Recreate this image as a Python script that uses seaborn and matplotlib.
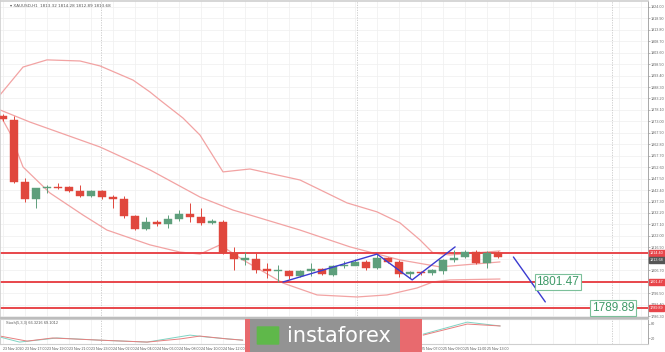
import numpy as np
import pandas as pd
import matplotlib
matplotlib.use("Agg")
import matplotlib.pyplot as plt
import seaborn as sns
from matplotlib.patches import Rectangle, FancyBboxPatch

# ---------------- data ----------------
opens  = [1875.4, 1873.6, 1846.0, 1838.4, 1843.3, 1843.8, 1843.6, 1842.0, 1839.8, 1842.0,
          1839.3, 1838.4, 1830.9, 1825.1, 1828.2, 1827.3, 1829.5, 1831.8, 1830.4, 1827.8,
          1828.2, 1814.4, 1811.3, 1811.7, 1807.3, 1806.4, 1806.4, 1804.1, 1806.4, 1807.3,
          1804.6, 1808.6, 1808.6, 1810.4, 1807.7, 1812.2, 1810.4, 1805.0, 1805.9, 1805.5,
          1806.4, 1811.3, 1812.6, 1814.8, 1809.9, 1814.4]
highs  = [1876.3, 1875.4, 1847.8, 1843.3, 1844.7, 1845.6, 1844.2, 1844.7, 1842.4, 1842.4,
          1840.2, 1839.8, 1831.3, 1830.4, 1829.1, 1831.3, 1833.5, 1836.7, 1834.4, 1829.5,
          1829.1, 1817.1, 1814.8, 1814.4, 1809.9, 1809.0, 1806.8, 1806.8, 1809.8, 1807.7,
          1809.0, 1810.8, 1811.7, 1811.3, 1813.9, 1812.6, 1811.3, 1806.4, 1806.4, 1807.3,
          1811.7, 1815.7, 1815.7, 1815.7, 1815.3, 1815.3]
lows   = [1873.2, 1845.6, 1837.1, 1834.4, 1841.1, 1842.9, 1841.6, 1839.3, 1839.3, 1838.4,
          1834.4, 1830.0, 1824.6, 1824.6, 1826.4, 1825.5, 1828.6, 1828.2, 1826.9, 1827.3,
          1814.0, 1806.8, 1809.0, 1805.5, 1803.3, 1801.5, 1802.8, 1803.7, 1804.1, 1804.6,
          1804.1, 1807.7, 1809.0, 1806.8, 1807.3, 1809.9, 1803.7, 1803.3, 1804.6, 1804.6,
          1805.0, 1810.4, 1812.2, 1809.5, 1807.7, 1812.2]
closes = [1874.1, 1846.0, 1838.4, 1843.3, 1843.8, 1843.3, 1842.0, 1839.8, 1842.0, 1839.3,
          1838.4, 1830.9, 1825.1, 1828.2, 1827.3, 1829.5, 1831.8, 1830.4, 1827.8, 1828.6,
          1814.4, 1811.7, 1812.2, 1806.8, 1806.4, 1806.8, 1804.1, 1806.4, 1807.3, 1805.0,
          1808.6, 1809.0, 1810.4, 1807.7, 1812.2, 1810.4, 1805.0, 1805.9, 1805.5, 1806.8,
          1811.3, 1812.2, 1814.8, 1809.9, 1814.4, 1812.6]

# Bollinger bands (candle index, price)
bb_up_x  = [-0.27, 1.82, 4.0, 7.0, 8.82, 11.82, 13.36, 14.27, 16.36, 17.91, 20.0, 22.45, 27.0, 31.27, 34.0, 36.09, 37.91, 39.09, 40.64, 45.18]
bb_up_y  = [1884.8, 1897.2, 1900.4, 1899.9, 1897.7, 1891.4, 1886.1, 1882.5, 1874.5, 1866.9, 1850.5, 1851.8, 1846.9, 1836.7, 1832.7, 1827.8, 1820.2, 1814.4, 1813.5, 1815.3]
bb_mid_x = [-0.27, 2.45, 8.82, 13.36, 17.91, 20.91, 22.45, 27.0, 31.55, 33.64, 36.09, 39.73, 45.18]
bb_mid_y = [1878.1, 1872.7, 1861.6, 1851.4, 1839.3, 1833.5, 1831.3, 1824.6, 1817.1, 1814.4, 1811.3, 1808.2, 1810.4]
bb_lo_x  = [-0.27, 0.64, 1.82, 4.27, 7.27, 9.45, 13.36, 16.09, 17.91, 19.73, 21.82, 25.45, 28.55, 32.18, 34.91, 37.64, 39.09, 40.64, 45.18]
bb_lo_y  = [1875.9, 1867.8, 1852.7, 1841.1, 1831.3, 1824.6, 1818.0, 1814.8, 1813.9, 1818.0, 1811.3, 1801.0, 1795.7, 1794.8, 1795.7, 1798.8, 1801.5, 1802.4, 1802.8]

# Stochastic (candle index, value)
stoch_k_x = [-0.27, 1.5, 4.9, 8.8, 13.1, 17.0, 18.5, 21.8, 38.2, 42.2, 45.2]
stoch_k_y = [25, 4, 21, 12, 4, 33, 25, 12, 37, 87, 71]
stoch_d_x = [-0.27, 2.2, 4.5, 8.8, 13.1, 16.1, 17.9, 20.4, 21.8, 38.2, 42.2, 45.2]
stoch_d_y = [29, 8, 21, 12, 4, 17, 29, 17, 12, 33, 79, 71]

# levels and drawn pattern
levels = [1814.4, 1801.47, 1789.89]
level_labels = ["1801.47", "1789.89"]
zig_x = [25.45, 34.0, 37.2, 41.1]
zig_y = [1801.47, 1813.9, 1802.4, 1817.1]
arrow_x = [46.4, 49.3]
arrow_y = [1812.6, 1792.6]

y_ticks = [1786.30, 1791.40, 1796.50, 1801.60, 1806.70, 1811.80, 1816.90, 1822.00, 1827.10,
           1832.20, 1837.30, 1842.40, 1847.50, 1852.60, 1857.70, 1862.80, 1867.90, 1873.00,
           1878.10, 1883.20, 1888.30, 1893.40, 1898.50, 1903.60, 1908.70, 1913.80, 1918.90, 1924.00]
x_tick_pos = [0, 2, 4, 6, 8, 10, 12, 14, 16, 18, 20, 22, 24, 26, 28, 30, 32, 34, 36, 38, 40, 42, 44]
x_tick_lab = ["23 Nov 2020", "23 Nov 17:00", "23 Nov 19:00", "23 Nov 21:00", "23 Nov 23:00",
              "24 Nov 02:00", "24 Nov 04:00", "24 Nov 06:00", "24 Nov 08:00", "24 Nov 10:00",
              "24 Nov 12:00", "24 Nov 14:00", "24 Nov 16:00", "24 Nov 18:00", "24 Nov 20:00",
              "24 Nov 22:00", "25 Nov 01:00", "25 Nov 03:00", "25 Nov 05:00", "25 Nov 07:00",
              "25 Nov 09:00", "25 Nov 11:00", "25 Nov 13:00"]
day_sep = [8.9, 32.2, 55.4]
header = "XAUUSD,H1  1813.32 1814.28 1812.89 1813.68"
last_price = "1813.68"
brand = "instaforex"

# ---------------- figure ----------------
sns.set_theme(style="white")
plt.rcParams['font.family'] = ['Liberation Sans', 'DejaVu Sans']
W, H = 665, 352
fig = plt.figure(figsize=(W / 100, H / 100), dpi=100)
fig.patch.set_facecolor("white")

def fy(py):
    return 1 - py / H

XMIN, XMAX = -0.273, 58.636
ax = fig.add_axes([0, fy(318), 648 / W, 317 / H])
ax.set_xlim(XMIN, XMAX)
ax.set_ylim(1785.43, 1926.62)

RED = "#e0473d"
GREEN = "#5e9f7c"
BAND = "#f2a3a3"
LEVEL = "#e8464b"
LABG = "#3f9a68"
GRID = "#efefef"

# grid
for t in y_ticks:
    ax.axhline(t, color=GRID, lw=0.5, zorder=0)
for t in x_tick_pos + [46, 48, 50, 52, 54, 56, 58]:
    ax.axvline(t, color=GRID, lw=0.5, zorder=0)
for d in day_sep:
    ax.axvline(d, color="#c8c8c8", lw=0.6, ls=(0, (1.5, 1.5)), zorder=0.5)

# bands
df_up = pd.DataFrame({"x": bb_up_x, "y": bb_up_y})
df_mid = pd.DataFrame({"x": bb_mid_x, "y": bb_mid_y})
df_lo = pd.DataFrame({"x": bb_lo_x, "y": bb_lo_y})
for d in (df_up, df_mid, df_lo):
    sns.lineplot(data=d, x="x", y="y", ax=ax, color=BAND, lw=0.9, sort=False, zorder=1)

# levels
for lv in levels:
    ax.axhline(lv, color=LEVEL, lw=1.4, zorder=2)

# candles
idx = np.arange(len(opens))
o = np.array(opens); c = np.array(closes); h = np.array(highs); l = np.array(lows)
cols = [GREEN if cc >= oo else RED for oo, cc in zip(o, c)]
ax.vlines(idx, l, h, colors=cols, lw=0.7, zorder=3)
bot = np.minimum(o, c)
hgt = np.maximum(np.abs(c - o), 0.35)
ax.bar(idx, hgt, bottom=bot, width=0.66, color=cols, edgecolor=cols, lw=0.3, zorder=4)

# zigzag and arrow
sns.lineplot(x=zig_x, y=zig_y, ax=ax, color="#3b3bd0", lw=1.0, sort=False, zorder=5)
sns.lineplot(x=arrow_x, y=arrow_y, ax=ax, color="#3b3bd0", lw=1.0, sort=False, zorder=5)

# green level labels
ax.text(50.45, levels[1], level_labels[0], ha="center", va="center", fontsize=8.5,
        color=LABG, zorder=7,
        bbox=dict(boxstyle="square,pad=0.15", fc="white", ec="#7cc09a", lw=0.8))
ax.text(55.45, levels[2], level_labels[1], ha="center", va="center", fontsize=8.5,
        color=LABG, zorder=7,
        bbox=dict(boxstyle="square,pad=0.15", fc="white", ec="#7cc09a", lw=0.8))

# axis styling
ax.set_xlabel(""); ax.set_ylabel("")
ax.yaxis.tick_right()
ax.set_yticks(y_ticks)
ax.set_yticklabels([f"{t:.2f}" for t in y_ticks], fontsize=2.7, color="#666666")
ax.tick_params(axis="y", length=1.2, width=0.4, pad=0.8, colors="#888888", labelcolor="#666666")
ax.set_xticks([])
for s in ("top", "left"):
    ax.spines[s].set_color("#cfcfcf"); ax.spines[s].set_linewidth(1.2)
ax.spines["right"].set_color("#9a9a9a"); ax.spines["right"].set_linewidth(0.6)
ax.spines["bottom"].set_color("#bdbdbd"); ax.spines["bottom"].set_linewidth(1.6)

# right axis price boxes
def ybox(price, txt, fc):
    ax.annotate(txt, xy=(1.0, price), xycoords=("axes fraction", "data"),
                xytext=(1.3, 0), textcoords="offset points", ha="left", va="center",
                fontsize=2.7, color="white", annotation_clip=False, zorder=8,
                bbox=dict(boxstyle="square,pad=0.3", fc=fc, ec=fc))
ybox(levels[0], f"{levels[0]:.2f}", LEVEL)
ybox(float(last_price) - 2.3, last_price, "#555555")
ybox(levels[1], f"{levels[1]:.2f}", LEVEL)
ybox(levels[2], f"{levels[2]:.2f}", LEVEL)

ax.text(0.6, 1924.3, "\u25be " + header, fontsize=3.0, color="#555555", va="center", ha="left",
        family=["DejaVu Sans"])

# stochastic panel
ax2 = fig.add_axes([0, fy(344), 648 / W, 25 / H])
ax2.set_xlim(XMIN, XMAX)
ax2.set_ylim(-4, 100)
for t in x_tick_pos + [46, 48, 50, 52, 54, 56, 58]:
    ax2.axvline(t, color=GRID, lw=0.5, zorder=0)
for d in day_sep:
    ax2.axvline(d, color="#c8c8c8", lw=0.6, ls=(0, (1.5, 1.5)), zorder=0.5)
sns.lineplot(x=stoch_k_x[:8], y=stoch_k_y[:8], ax=ax2, color="#7fd3c3", lw=0.7, sort=False)
sns.lineplot(x=stoch_k_x[8:], y=stoch_k_y[8:], ax=ax2, color="#7fd3c3", lw=0.7, sort=False)
sns.lineplot(x=stoch_d_x[:9], y=stoch_d_y[:9], ax=ax2, color="#e77f7f", lw=0.7, sort=False)
sns.lineplot(x=stoch_d_x[9:], y=stoch_d_y[9:], ax=ax2, color="#e77f7f", lw=0.7, sort=False)
ax2.text(0.3, 92, "Stoch(5,3,3) 66.3216 69.1012", fontsize=2.8, color="#555555", va="top")
ax2.yaxis.tick_right()
ax2.set_yticks([20, 80])
ax2.set_yticklabels(["20", "80"], fontsize=2.7, color="#666666")
ax2.tick_params(axis="y", length=1.2, width=0.4, pad=0.8, colors="#888888", labelcolor="#666666")
ax2.set_xticks(x_tick_pos)
ax2.set_xticklabels(x_tick_lab, fontsize=2.6, color="#555555", ha="left")
ax2.tick_params(axis="x", length=1.2, width=0.4, pad=0.6, colors="#888888", labelcolor="#555555")
ax2.set_xlabel(""); ax2.set_ylabel("")
for s in ("top", "bottom", "left"):
    ax2.spines[s].set_color("#cfcfcf"); ax2.spines[s].set_linewidth(0.8)
ax2.spines["right"].set_color("#9a9a9a"); ax2.spines["right"].set_linewidth(0.6)

# watermark
fig.patches.append(Rectangle((245 / W, 0), 177 / W, 33 / H, transform=fig.transFigure,
                             fc="#e86a6e", ec="none", zorder=19))
fig.patches.append(Rectangle((250 / W, 0), 150 / W, 33 / H, transform=fig.transFigure,
                             fc="#939393", ec="none", zorder=20))
fig.patches.append(FancyBboxPatch((258 / W, 8 / H), 20 / W, 17 / H, transform=fig.transFigure,
                                  boxstyle="round,pad=0.002", fc="#5fb84a", ec="none", zorder=21))
fig.text(287 / W, 16 / H, brand, fontsize=15, color="white", va="center", ha="left",
         zorder=22, family=["DejaVu Sans"])

fig.savefig("out.png", dpi=100)
